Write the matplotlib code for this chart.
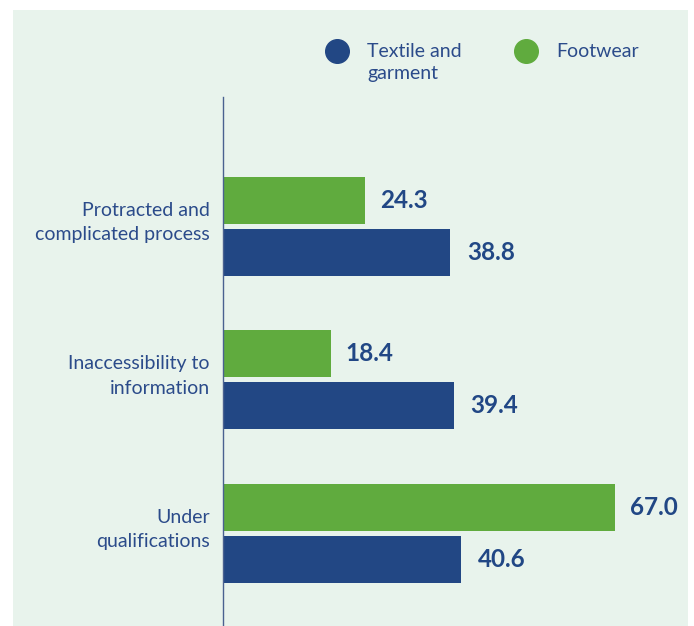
import matplotlib.pyplot as plt
from matplotlib.patches import Rectangle
from matplotlib.lines import Line2D

# data
categories = ["Protracted and\ncomplicated process", "Inaccessibility to\ninformation", "Under\nqualifications"]
textile = [38.8, 39.4, 40.6]
footwear = [24.3, 18.4, 67.0]
series_names = ["Textile and\ngarment", "Footwear"]

blue = "#224784"
green = "#60ab3e"
txt_blue = "#2b4b8a"
bg = "#e8f3ec"

W, H = 694, 626
fig = plt.figure(figsize=(W / 100, H / 100), dpi=100)
fig.patch.set_facecolor("white")
# light green panel
fig.add_artist(Rectangle((13 / W, 0), (688 - 13) / W, (H - 10) / H,
                         transform=fig.transFigure, facecolor=bg, edgecolor="none", zorder=0))

plt.rcParams['font.family'] = ['Lato', 'DejaVu Sans']

# axes placement in pixels
ax_left, ax_top, ax_bottom, ax_w = 223, 97, 626, 460
ax = fig.add_axes([ax_left / W, 1 - ax_bottom / H, ax_w / W, (ax_bottom - ax_top) / H])
ax.set_facecolor("none")

px_per_unit = 5.855
ax.set_xlim(0, ax_w / px_per_unit)

group_px = 153.5
bar_h = 47 / group_px
off = 26 / group_px
top_units = 129.5 / group_px
total_units = (ax_bottom - ax_top) / group_px
ax.set_ylim(total_units - top_units, -top_units)

ys = list(range(len(categories)))
ax.barh([y - off for y in ys], footwear, height=bar_h, color=green, zorder=2)
ax.barh([y + off for y in ys], textile, height=bar_h, color=blue, zorder=2)

for y, v in zip(ys, footwear):
    ax.annotate(f"{v:.1f}", (v, y - off), xytext=(15, 0), textcoords="offset pixels",
                va="center", ha="left", fontsize=17.5, fontweight="bold", color="#214785")
for y, v in zip(ys, textile):
    ax.annotate(f"{v:.1f}", (v, y + off), xytext=(17, 0), textcoords="offset pixels",
                va="center", ha="left", fontsize=17.5, fontweight="bold", color="#214785")

# category labels
for y, lab in zip(ys, categories):
    ax.annotate(lab, (0, y), xytext=(-13, 4), textcoords="offset pixels",
                va="center", ha="right", multialignment="right",
                fontsize=14, color=txt_blue, linespacing=1.55, annotation_clip=False)

ax.set_yticks([])
ax.set_xticks([])
for s in ["top", "right", "bottom"]:
    ax.spines[s].set_visible(False)
ax.spines["left"].set_color("#4a6190")
ax.spines["left"].set_linewidth(1.0)

# legend
leg_y = 1 - 51 / H
for cx, tx, name, col in [(337, 367, series_names[0], blue), (526, 556, series_names[1], green)]:
    fig.add_artist(Line2D([cx / W], [leg_y], marker="o", markersize=17, color=col,
                          transform=fig.transFigure, linestyle="none"))
    fig.text(tx / W, 1 - 43 / H, name, fontsize=14, color=txt_blue, va="top", ha="left",
             linespacing=1.35)

fig.savefig("out.png", dpi=100, facecolor=fig.get_facecolor())
